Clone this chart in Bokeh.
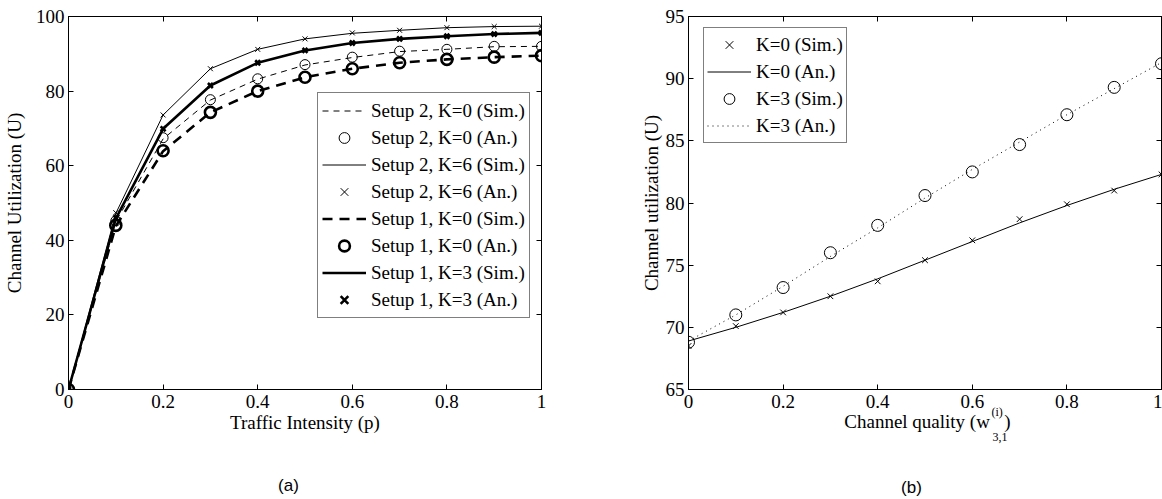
from bokeh.plotting import figure
from bokeh.layouts import row
from bokeh.models import (LinearAxis, Legend, LegendItem, Label, Range1d,
                          FixedTicker, CustomJSTickFormatter)
from bokeh.embed import file_html
from bokeh.resources import INLINE

# ---------------- data: panel (a) ----------------
traffic = [0.0, 0.1, 0.2, 0.3, 0.4, 0.5, 0.6, 0.7, 0.8, 0.9, 1.0]
s2_k0_sim = [0, 45.0, 67.2, 77.6, 83.2, 87.0, 89.0, 90.6, 91.2, 91.9, 92.0]
s2_k0_an = [0, 45.2, 67.5, 77.7, 83.3, 87.1, 89.1, 90.7, 91.2, 92.0, 92.0]
s2_k6_sim = [0, 47.2, 73.6, 86.0, 91.2, 94.0, 95.5, 96.3, 97.0, 97.3, 97.4]
s2_k6_an = [0, 47.4, 73.6, 86.0, 91.2, 94.0, 95.6, 96.3, 97.0, 97.3, 97.4]
s1_k0_sim = [0, 43.8, 63.9, 74.3, 80.0, 83.7, 86.0, 87.6, 88.5, 89.1, 89.5]
s1_k0_an = [0, 44.0, 64.0, 74.3, 80.0, 83.7, 86.0, 87.6, 88.5, 89.1, 89.5]
s1_k3_sim = [0, 45.8, 69.9, 81.5, 87.6, 90.9, 92.9, 94.0, 94.7, 95.3, 95.6]
s1_k3_an = [0, 46.0, 69.9, 81.5, 87.6, 90.9, 92.9, 94.0, 94.7, 95.3, 95.6]
x_ticks_a = [0, 0.2, 0.4, 0.6, 0.8, 1]
y_ticks_a = [0, 20, 40, 60, 80, 100]

# ---------------- data: panel (b) ----------------
quality = [0.0, 0.1, 0.2, 0.3, 0.4, 0.5, 0.6, 0.7, 0.8, 0.9, 1.0]
k0_sim = [68.5, 70.1, 71.2, 72.5, 73.7, 75.4, 77.0, 78.7, 79.9, 81.0, 82.3]
k0_an = [68.9, 70.0, 71.2, 72.5, 73.9, 75.4, 76.9, 78.4, 79.8, 81.1, 82.3]
k3_sim = [68.8, 71.0, 73.2, 76.0, 78.2, 80.6, 82.5, 84.7, 87.1, 89.3, 91.2]
k3_an = [68.9, 71.0, 73.3, 75.7, 78.0, 80.4, 82.7, 84.9, 87.1, 89.2, 91.3]
x_ticks_b = [0, 0.2, 0.4, 0.6, 0.8, 1]
y_ticks_b = [65, 70, 75, 80, 85, 90, 95]

SERIF = "Liberation Serif"
SANS = "Liberation Sans"
FS = "19px"


def base_fig(width, yr, left, right):
    p = figure(width=width, height=499, output_backend="svg", toolbar_location=None,
               x_range=Range1d(0, 1), y_range=Range1d(*yr),
               min_border_left=left, min_border_right=right,
               min_border_top=16, min_border_bottom=110)
    p.xgrid.visible = False
    p.ygrid.visible = False
    p.outline_line_color = "black"
    p.outline_line_width = 1
    p.background_fill_color = "white"
    p.border_fill_color = "white"
    return p


def style_axis(ax, ticks):
    ax.ticker = FixedTicker(ticks=ticks)
    ax.formatter = CustomJSTickFormatter(code="return tick.toString()")
    ax.axis_line_color = "black"
    ax.major_tick_in = 5
    ax.major_tick_out = 0
    ax.major_tick_line_color = "black"
    ax.minor_tick_line_color = None
    ax.major_label_text_font = SERIF
    ax.major_label_text_font_size = FS
    ax.major_label_text_color = "black"
    ax.axis_label_text_font = SERIF
    ax.axis_label_text_font_size = FS
    ax.axis_label_text_font_style = "normal"
    ax.axis_label_text_color = "black"


def mirror_axes(p, xt, yt):
    for loc, ticks in (("above", xt), ("right", yt)):
        ax = LinearAxis(ticker=FixedTicker(ticks=ticks),
                        formatter=CustomJSTickFormatter(code="return ''"),
                        major_tick_in=5, major_tick_out=0,
                        minor_tick_line_color=None,
                        major_label_text_font_size="0px",
                        major_label_standoff=0,
                        axis_line_color="black")
        p.add_layout(ax, loc)


def legend_for(p, items, loc, pad):
    lg = Legend(items=items, location=loc,
                label_text_font=SERIF, label_text_font_size=FS,
                label_text_color="black",
                border_line_color="black", border_line_width=1,
                background_fill_color="white", background_fill_alpha=1,
                padding=pad, spacing=0, margin=0,
                glyph_width=44, glyph_height=27, label_height=27,
                label_standoff=5)
    p.add_layout(lg)


def below_label(p, text, x, y, size, font=SERIF, align="left", baseline="alphabetic"):
    p.add_layout(Label(x=x, y=y, x_units="screen", y_units="screen", text=text,
                       text_font=font, text_font_size=size, text_color="black",
                       text_align=align, text_baseline=baseline), "below")


# ---------------- panel (a) ----------------
pa = base_fig(580, (0, 100), 67, 39)
style_axis(pa.xaxis[0], x_ticks_a)
style_axis(pa.yaxis[0], y_ticks_a)
pa.xaxis[0].major_label_standoff = 5
pa.yaxis[0].major_label_standoff = 4
pa.xaxis[0].axis_label = "Traffic Intensity (p)"
pa.yaxis[0].axis_label = "Channel Utilization (U)"
pa.xaxis[0].axis_label_standoff = 1
pa.yaxis[0].axis_label_standoff = 8
mirror_axes(pa, x_ticks_a, y_ticks_a)

r1 = pa.line(traffic, s2_k0_sim, line_color="black", line_width=1, line_dash="6 5")
r2 = pa.scatter(traffic, s2_k0_an, marker="circle", size=10, fill_color=None,
                line_color="black", line_width=1)
r3 = pa.line(traffic, s2_k6_sim, line_color="black", line_width=1)
r4 = pa.scatter(traffic, s2_k6_an, marker="x", size=7, line_color="black", line_width=1)
r5 = pa.line(traffic, s1_k0_sim, line_color="black", line_width=2.6, line_dash="10 7")
r6 = pa.scatter(traffic, s1_k0_an, marker="circle", size=11, fill_color=None,
                line_color="black", line_width=2.6)
r7 = pa.line(traffic, s1_k3_sim, line_color="black", line_width=2.6)
r8 = pa.scatter(traffic, s1_k3_an, marker="x", size=7, line_color="black", line_width=2.6)

legend_for(pa, [
    LegendItem(label="Setup 2, K=0 (Sim.)", renderers=[r1]),
    LegendItem(label="Setup 2, K=0 (An.)", renderers=[r2]),
    LegendItem(label="Setup 2, K=6 (Sim.)", renderers=[r3]),
    LegendItem(label="Setup 2, K=6 (An.)", renderers=[r4]),
    LegendItem(label="Setup 1, K=0 (Sim.)", renderers=[r5]),
    LegendItem(label="Setup 1, K=0 (An.)", renderers=[r6]),
    LegendItem(label="Setup 1, K=3 (Sim.)", renderers=[r7]),
    LegendItem(label="Setup 1, K=3 (An.)", renderers=[r8]),
], (249, 71), 4)

below_label(pa, "(a)", 220, -31, "17px", font=SANS, align="center", baseline="middle")

# ---------------- panel (b) ----------------
pb = base_fig(582, (65, 95), 108, 1)
style_axis(pb.xaxis[0], x_ticks_b)
style_axis(pb.yaxis[0], y_ticks_b)
pb.xaxis[0].major_label_standoff = 5
pb.yaxis[0].major_label_standoff = 4
pb.yaxis[0].axis_label = "Channel utilization (U)"
pb.yaxis[0].axis_label_standoff = 1
mirror_axes(pb, x_ticks_b, y_ticks_b)

q1 = pb.scatter(quality, k0_sim, marker="x", size=8, line_color="black", line_width=1)
q2 = pb.line(quality, k0_an, line_color="black", line_width=1)
q3 = pb.scatter(quality, k3_sim, marker="circle", size=12, fill_color=None,
                line_color="black", line_width=1)
q4 = pb.line(quality, k3_an, line_color="black", line_width=1, line_dash="1 4")

legend_for(pb, [
    LegendItem(label="K=0 (Sim.)", renderers=[q1]),
    LegendItem(label="K=0 (An.)", renderers=[q2]),
    LegendItem(label="K=3 (Sim.)", renderers=[q3]),
    LegendItem(label="K=3 (An.)", renderers=[q4]),
], (15, 246), 3)

# x-axis label with super/subscript built from text pieces (in the below panel)
below_label(pb, "Channel quality (w\u00a0\u00a0\u00a0)", 322, 10, FS, align="right")
below_label(pb, "(i)", 303, 34, "12px")
below_label(pb, "3,1", 304, 17, "12px")
below_label(pb, "(b)", 223, -15, "17px", font=SANS, align="center", baseline="middle")

layout = row(pa, pb)
open("out.html", "w").write(file_html(layout, INLINE))
